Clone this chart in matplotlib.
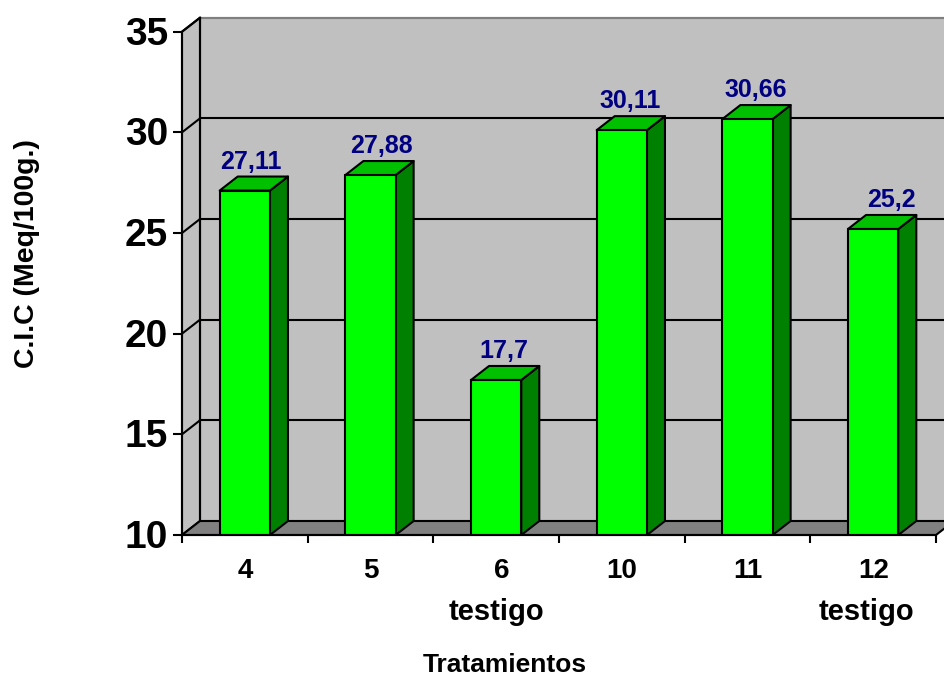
import numpy as np
import matplotlib
matplotlib.use("Agg")
import matplotlib.pyplot as plt
from matplotlib.patches import Polygon
from matplotlib.transforms import ScaledTranslation

plt.rcParams["font.family"] = ["Liberation Sans", "DejaVu Sans"]
plt.rcParams["font.weight"] = "bold"

tratamientos = ["4", "5", "6", "10", "11", "12"]
notas = ["", "", "testigo", "", "", "testigo"]
cic = [27.11, 27.88, 17.7, 30.11, 30.66, 25.2]
y_ticks = [10, 15, 20, 25, 30, 35]

W, H = 944, 675
fig = plt.figure(figsize=(W / 100, H / 100), dpi=100)
ax = fig.add_axes([182 / W, (H - 535) / H, 754 / W, 503.3 / H])
x = np.arange(len(cic))
ax.set_xlim(-0.5, 5.5)
ax.set_ylim(10, 35)
ax.patch.set_visible(False)

# depth of the fake 3d, in data units
dx = 18 / 125.67
dy = 14 / 20.13
lw = 1.5
x0, x1 = ax.get_xlim()
y0, y1 = ax.get_ylim()


def poly(pts, color, z, edge="black"):
    ax.add_patch(Polygon(pts, closed=True, facecolor=color, edgecolor=edge,
                         linewidth=lw, zorder=z, clip_on=False, joinstyle="round"))


# walls and floor
poly([(x0 + dx, y0 + dy), (x1 + dx, y0 + dy), (x1 + dx, y1 + dy), (x0 + dx, y1 + dy)], "#C0C0C0", 1, "#808080")
poly([(x0, y0), (x0 + dx, y0 + dy), (x0 + dx, y1 + dy), (x0, y1)], "#C0C0C0", 1)
poly([(x0, y0), (x1, y0), (x1 + dx, y0 + dy), (x0 + dx, y0 + dy)], "#808080", 1)
for t in y_ticks[1:]:
    col = "#808080" if t == y_ticks[-1] else "black"
    ax.plot([x0 + dx, x1 + dx], [t + dy, t + dy], color=col, lw=lw, zorder=2, clip_on=False)
    ax.plot([x0, x0 + dx], [t, t + dy], color="black", lw=lw, zorder=2, clip_on=False)
ax.plot([x0 + dx, x0 + dx], [y0 + dy, y1 + dy], color="black", lw=lw, zorder=2, clip_on=False)

# bars
bw = 0.4
ax.bar(x, np.array(cic) - y0, bw, bottom=y0, color="#00FF00", edgecolor="black", linewidth=lw, zorder=4)
for xi, v in zip(x, cic):
    l, r = xi - bw / 2, xi + bw / 2
    poly([(r, y0), (r + dx, y0 + dy), (r + dx, v + dy), (r, v)], "#008000", 3)
    poly([(l, v), (r, v), (r + dx, v + dy), (l + dx, v + dy)], "#00C000", 3)

# value labels, not centred the same way in the original
nudge = [6, 11, 8, 8, 8, 18]
for xi, v, n in zip(x, cic, nudge):
    ax.annotate(str(v).replace(".", ","), (xi, v + dy), xytext=(n, 15), textcoords="offset pixels",
                ha="center", va="center", color="#000080", fontsize=18, fontweight="bold",
                annotation_clip=False, zorder=6)

# axes
for s in ["top", "right"]:
    ax.spines[s].set_visible(False)
for s in ["left", "bottom"]:
    ax.spines[s].set_linewidth(lw)
    ax.spines[s].set_zorder(5)
ax.set_yticks(y_ticks)
ax.tick_params(axis="y", length=6.5, width=lw, pad=3.5, labelsize=28)
up = ScaledTranslation(0, 1 / 100, fig.dpi_scale_trans)
for lab in ax.get_yticklabels():
    lab.set_transform(lab.get_transform() + up)
ax.set_xticks(np.arange(len(cic) + 1) - 0.5)
ax.set_xticklabels([])
ax.tick_params(axis="x", length=6, width=lw)

label_shift = [0, 0, 6, 0, 0, 1]
note_shift = [0, 0, 0, 0, 0, -7]
for xi, t, nota, a, b in zip(x, tratamientos, notas, label_shift, note_shift):
    ax.annotate(t, (xi, y0), xytext=(a, -36), textcoords="offset pixels", ha="center", va="center",
                fontsize=20, fontweight="bold", annotation_clip=False)
    ax.annotate(nota, (xi, y0), xytext=(b, -77), textcoords="offset pixels", ha="center", va="center",
                fontsize=21, fontweight="bold", annotation_clip=False)

fig.text(505 / W, 1 - 665 / H, "Tratamientos", ha="center", va="center", fontsize=19, fontweight="bold")
fig.text(27.5 / W, 1 - 254 / H, "C.I.C (Meq/100g.)", rotation=90, ha="center", va="center", fontsize=20.5, fontweight="bold")

fig.savefig("out.png", dpi=100)
